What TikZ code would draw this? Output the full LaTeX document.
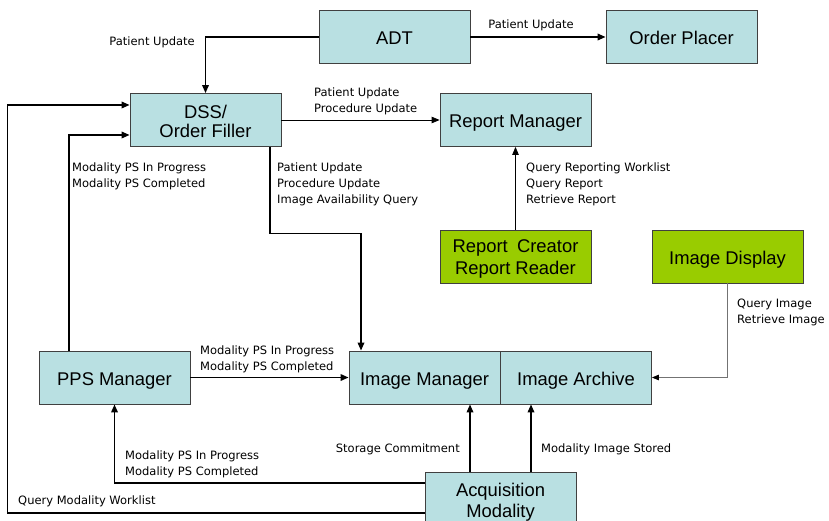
\documentclass[tikz,border=0pt]{standalone}
\usepackage{fontspec}
\setmainfont{Liberation Sans}
\newfontfamily\lblfont{DejaVu Sans}
\usepackage{tikz}
\usetikzlibrary{shapes,arrows.meta}
\definecolor{boxteal}{RGB}{185,224,226}
\definecolor{boxgreen}{RGB}{153,204,0}
\tikzstyle{actor} = [rectangle, draw=black!75, fill=boxteal, line width=0.8pt,
	minimum width=151pt, text centered, align=center, inner sep=0pt,
	minimum height=53pt, text height=15pt, text depth=0pt,
	font=\fontsize{18.4}{21}\selectfont]
\tikzstyle{twolines} = [text height=36pt, text depth=0pt]
\tikzstyle{viewer} = [actor, fill=boxgreen]
\tikzstyle{line} = [draw, line width=1.7pt, -{Triangle[length=8pt,width=6.5pt]}]
\tikzstyle{thinline} = [draw, line width=0.8pt, -{Triangle[length=8pt,width=6.5pt]}]
\tikzstyle{grayline} = [draw=black!55, line width=0.7pt,
	-{Triangle[length=7pt,width=5.5pt,black]}]
\tikzstyle{lbl} = [inner sep=0pt, align=left,
	font=\lblfont\fontsize{11.5}{16}\selectfont]

\begin{document}
\begin{tikzpicture}[x=1pt, y=-1pt]
	\useasboundingbox (0,0) rectangle (829,521);

	% Place nodes
	\node [actor] (ADT) at (394.5,37) {ADT};
	\node [actor, right of=ADT, node distance=287pt] (placer) {Order Placer};
	\node [actor, twolines, font=\fontsize{18.4}{19}\selectfont] (dss) at (205.5,120) {DSS/\\Order Filler};
	\node [actor, right of=dss, node distance=310pt] (repmgr) {Report Manager};
	\node [viewer, twolines, text height=35pt, font=\fontsize{18.4}{22}\selectfont,
		below of=repmgr, node distance=136.5pt] (creator) {Report\enspace Creator\\Report Reader};
	\node [viewer, right of=creator, node distance=212pt] (display) {Image Display};
	\node [actor] (pps) at (114.5,377.5) {PPS Manager};
	\node [actor, right of=pps, node distance=310pt] (imgmgr) {Image Manager};
	\node [actor, right of=imgmgr, node distance=151.5pt] (archive) {Image Archive};
	\node [actor, twolines, text height=37pt] (acq) at (500.5,498.5) {Acquisition\\Modality};

	% Draw edges
	\path [line] (ADT.west) -| (dss.north);
	\path [line] (ADT) -- (placer);
	\path [thinline] (dss) -- (repmgr);
	\path [line] ([yshift=-14.5pt]acq.west) -- ++(-417,0) |- ([yshift=15pt]dss.west);
	\path [line] ([xshift=-45.5pt]pps.north) |- ([yshift=-15pt]dss.west);
	\path [line] ([xshift=64.5pt]dss.south) -- ++(0,86.5) -| ([xshift=-63.5pt]imgmgr.north);
	\path [thinline] (creator) -- (repmgr);
	\path [grayline] (display.south) |- (archive.east);
	\path [line] (pps) -- (imgmgr);
	\path [line] ([yshift=15.5pt]acq.west) -| (pps.south);
	\path [line] ([xshift=-30.5pt]acq.north) -- ([xshift=-30.5pt]acq.north |- imgmgr.south);
	\path [line] ([xshift=30.5pt]acq.north) -- ([xshift=30.5pt]acq.north |- archive.south);

	% Edge labels (base = last line)
	\node [lbl, anchor=base east] (lADT) at (195,46) {Patient Update};
	\node [lbl, anchor=base] (lplacer) at (531,29) {Patient Update};
	\node [lbl, anchor=base west] (lrep) at (314,113) {Patient Update\\Procedure Update};
	\node [lbl, anchor=base west] (lppsdss) at (72,188) {Modality PS In Progress\\Modality PS Completed};
	\node [lbl, anchor=base west] (ldssimg) at (277,204) {Patient Update\\Procedure Update\\Image Availability Query};
	\node [lbl, anchor=base west] (lcreator) at (526,204) {Query Reporting Worklist\\Query Report\\Retrieve Report};
	\node [lbl, anchor=base west] (ldisplay) at (737,323) {Query Image\\Retrieve Image};
	\node [lbl, anchor=base west] (lppsimg) at (200,370) {Modality PS In Progress\\Modality PS Completed};
	\node [lbl, anchor=base west] (lacqpps) at (125,475) {Modality PS In Progress\\Modality PS Completed};
	\node [lbl, anchor=base west] (lworklist) at (18,504) {Query Modality Worklist};
	\node [lbl, anchor=base east] (lcommit) at (460,452) {Storage Commitment};
	\node [lbl, anchor=base west] (lstored) at (541,452) {Modality Image Stored};
\end{tikzpicture}
\end{document}
